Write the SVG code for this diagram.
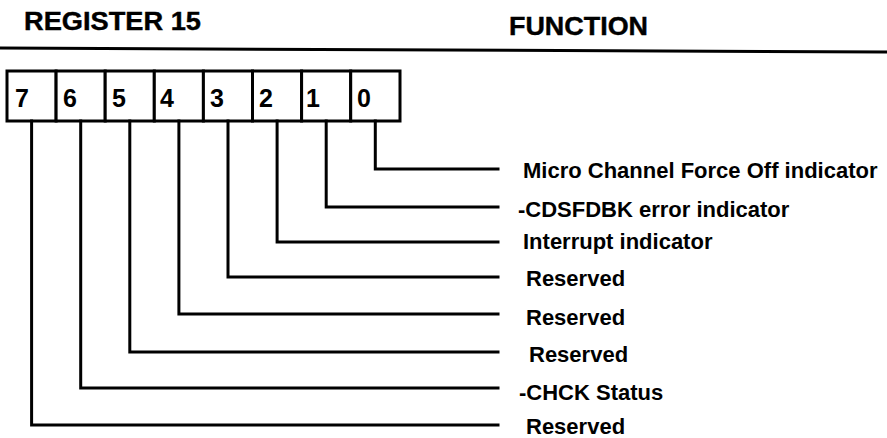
<svg xmlns="http://www.w3.org/2000/svg" width="887" height="438" viewBox="0 0 887 438">
<style>
  .hdr { font-family: "Liberation Sans", Arial, sans-serif; font-weight: bold; font-size: 25px; fill: #000; stroke: #000; stroke-width: 0.4; }
  .dig { font-family: "Liberation Sans", Arial, sans-serif; font-weight: bold; font-size: 25px; fill: #000; }
  .lbl { font-family: "Liberation Sans", Arial, sans-serif; font-weight: bold; font-size: 22px; fill: #000; }
  .cell { fill: #fff; stroke: #000; stroke-width: 3; }
  .conn { fill: none; stroke: #000; stroke-width: 3; stroke-linejoin: miter; stroke-linecap: square; }
  .rule { stroke: #000; stroke-width: 3; }
</style>
<rect width="887" height="438" fill="#fff"/>
<g id="header">
  <text class="hdr" x="24" y="30" textLength="177" lengthAdjust="spacingAndGlyphs">REGISTER 15</text>
  <text class="hdr" x="509" y="35" textLength="139" lengthAdjust="spacingAndGlyphs">FUNCTION</text>
  <line class="rule" x1="0" y1="48" x2="887" y2="52"/>
</g>
<g id="register">
  <rect class="cell" x="7" y="71" width="49.1" height="50"/>
  <rect class="cell" x="56.1" y="71" width="49.1" height="50"/>
  <rect class="cell" x="105.2" y="71" width="49.1" height="50"/>
  <rect class="cell" x="154.3" y="71" width="49.1" height="50"/>
  <rect class="cell" x="203.4" y="71" width="49.1" height="50"/>
  <rect class="cell" x="252.5" y="71" width="49.1" height="50"/>
  <rect class="cell" x="301.6" y="71" width="49.1" height="50"/>
  <rect class="cell" x="350.7" y="71" width="49.3" height="50"/>
  <text class="dig" x="15" y="107">7</text>
  <text class="dig" x="63" y="107">6</text>
  <text class="dig" x="112" y="107">5</text>
  <text class="dig" x="160" y="107">4</text>
  <text class="dig" x="210" y="107">3</text>
  <text class="dig" x="259" y="107">2</text>
  <text class="dig" x="306" y="107">1</text>
  <text class="dig" x="357" y="107">0</text>
</g>
<g id="connectors">
  <path class="conn" d="M375.3 121 V169 H498"/>
  <path class="conn" d="M326.2 121 V207 H498"/>
  <path class="conn" d="M277.1 121 V242 H498"/>
  <path class="conn" d="M228 121 V277 H498"/>
  <path class="conn" d="M178.9 121 V314 H498"/>
  <path class="conn" d="M129.8 121 V352 H498"/>
  <path class="conn" d="M80.7 121 V388 H498"/>
  <path class="conn" d="M31.6 121 V425 H498"/>
</g>
<g id="label-bit0"><text class="lbl" x="523" y="178">Micro Channel Force Off indicator</text></g>
<g id="label-bit1"><text class="lbl" x="518" y="217">-CDSFDBK error indicator</text></g>
<g id="label-bit2"><text class="lbl" x="523" y="249">Interrupt indicator</text></g>
<g id="label-bit3"><text class="lbl" x="526" y="286">Reserved</text></g>
<g id="label-bit4"><text class="lbl" x="526" y="325">Reserved</text></g>
<g id="label-bit5"><text class="lbl" x="529" y="362">Reserved</text></g>
<g id="label-bit6"><text class="lbl" x="519" y="400">-CHCK Status</text></g>
<g id="label-bit7"><text class="lbl" x="526" y="434">Reserved</text></g>
</svg>
